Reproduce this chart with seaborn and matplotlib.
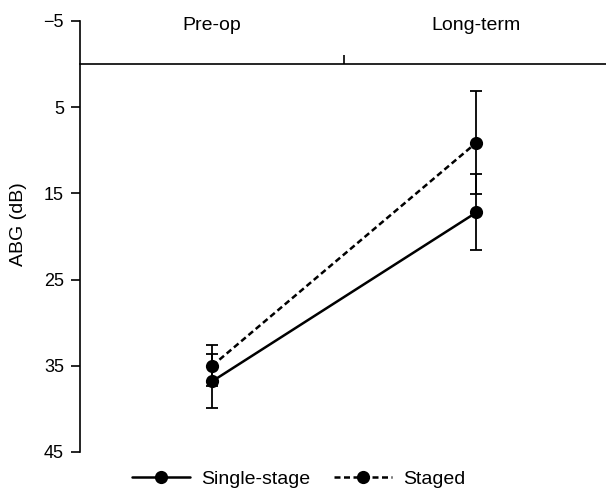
import matplotlib
matplotlib.use("Agg")
import matplotlib.pyplot as plt
import seaborn as sns
import pandas as pd
from matplotlib.lines import Line2D

# ---- data ----
timepoints = ["Pre-op", "Long-term"]
groups = ["Single-stage", "Staged"]
single_mean = [36.8, 17.2]
single_err = [3.15, 4.4]
staged_mean = [35.0, 9.1]
staged_err = [2.4, 6.0]
y_ticks = [-5, 5, 15, 25, 35, 45]

df = pd.DataFrame({
    "time": timepoints * 2,
    "abg": single_mean + staged_mean,
    "err": single_err + staged_err,
    "group": [groups[0]] * 2 + [groups[1]] * 2,
})
df["pos"] = df["time"].map({t: i for i, t in enumerate(timepoints)})

sns.set_style("ticks")
plt.rcParams["font.family"] = ["Liberation Sans", "DejaVu Sans"]
plt.rcParams["text.color"] = "black"
plt.rcParams["axes.labelcolor"] = "black"

fig = plt.figure(figsize=(6.06, 4.88), dpi=100)
ax = fig.add_axes([80 / 606, 1 - 452 / 488, 1 - 80 / 606, (452 - 21) / 488])

LW = 1.8
dash_styles = {groups[0]: "", groups[1]: (2.4, 1.4)}
sns.lineplot(data=df, x="pos", y="abg", style="group", style_order=groups,
             dashes=dash_styles, markers={groups[0]: "o", groups[1]: "o"},
             color="black", linewidth=LW, markersize=9.5, markeredgewidth=0,
             ax=ax, legend=False, zorder=3)

for g in groups:
    sub = df[df["group"] == g]
    ax.errorbar(sub["pos"], sub["abg"], yerr=sub["err"], fmt="none",
                ecolor="black", elinewidth=1.3, capsize=4.5, capthick=1.3,
                zorder=2)

ax.set_ylim(45, -5)
ax.set_xlim(-0.5, 1.49)
ax.set_yticks(y_ticks)
ax.tick_params(axis="y", labelsize=13, length=6.5, width=1.2, pad=5,
               colors="black", labelcolor="black")

# x axis drawn at ABG = 0, one separating tick between categories
ax.spines["bottom"].set_position(("data", 0))
ax.spines["top"].set_visible(False)
ax.spines["right"].set_visible(False)
for s in ("left", "bottom"):
    ax.spines[s].set_linewidth(1.2)
    ax.spines[s].set_color("black")
ax.set_xticks([0.5])
ax.set_xticklabels([""])
ax.tick_params(axis="x", direction="in", length=6.5, width=1.2, colors="black")
ax.set_xlabel("")

for i, t in enumerate(timepoints):
    ax.text(i, -4.5, t, ha="center", va="center", fontsize=14, color="black")

ax.set_ylabel("ABG (dB)", fontsize=14, color="black")
ax.yaxis.set_label_coords(-0.10, 0.529)

handles = [
    Line2D([], [], color="black", linewidth=LW, marker="o", markersize=9.5,
           markeredgewidth=0, linestyle="-"),
    Line2D([], [], color="black", linewidth=LW, marker="o", markersize=9.5,
           markeredgewidth=0, linestyle=(0, (2.4, 1.4))),
]
fig.legend(handles, groups, loc="center", ncol=2,
           bbox_to_anchor=(298.5 / 606, 1 - 479 / 488), frameon=False,
           fontsize=14, handlelength=3.0, handletextpad=0.55,
           columnspacing=1.2, borderaxespad=0, borderpad=0, labelcolor="black")

fig.savefig("out.png", dpi=100)
